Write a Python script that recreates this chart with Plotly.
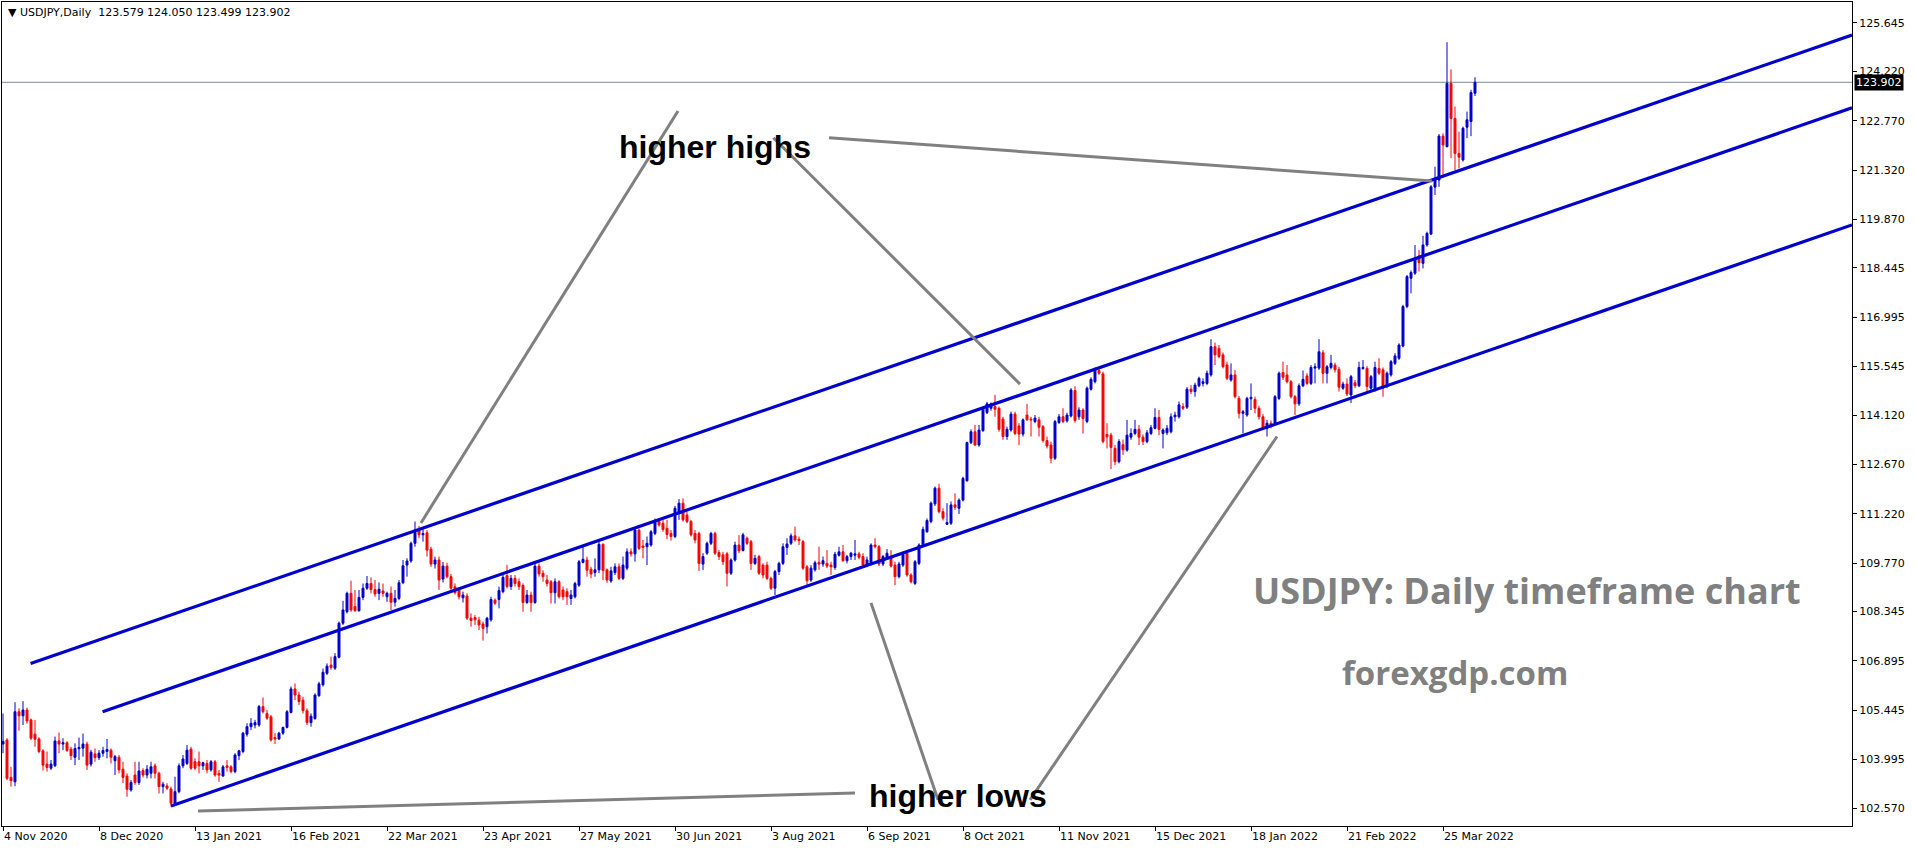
import plotly.graph_objects as go

# ---------------- data ----------------
open_ = [104.45,104.57,103.47,103.34,105.40,105.28,105.45,105.16,104.74,104.60,
104.25,103.86,103.74,103.81,104.54,104.45,104.49,104.30,104.06,104.31,
104.33,104.45,103.86,104.16,104.05,104.18,104.23,104.27,103.96,104.06,
103.71,103.51,103.10,103.54,103.32,103.67,103.54,103.59,103.81,103.59,
103.20,103.22,103.13,102.71,103.05,103.81,103.88,104.30,103.93,103.93,
103.81,103.88,103.69,103.93,103.59,103.51,103.81,103.78,103.64,104.11,
104.23,104.74,104.96,105.01,105.01,105.55,105.35,105.25,104.64,104.60,
104.77,104.94,105.38,106.07,105.89,105.74,105.43,105.08,105.20,105.87,
106.19,106.53,106.77,106.68,107.00,108.00,108.34,108.88,108.49,108.37,
108.76,109.03,109.17,108.99,108.88,108.95,108.78,108.88,108.62,108.73,
109.19,109.71,109.83,110.35,110.77,110.60,110.66,110.18,109.74,109.86,
109.30,109.68,109.37,109.07,108.98,108.75,108.80,108.15,108.17,108.09,
107.98,107.90,108.10,108.68,108.70,108.93,109.40,109.08,109.32,109.22,
109.11,108.61,108.83,108.61,109.68,109.47,109.27,109.22,108.90,109.22,
108.98,108.93,108.73,108.78,109.12,109.79,109.86,109.59,109.49,109.57,
110.32,109.57,109.24,109.49,109.66,109.32,109.62,110.10,110.04,110.74,
110.27,110.25,110.30,110.64,110.99,110.94,110.79,110.64,110.55,111.23,
111.53,111.18,110.99,110.64,110.64,109.74,110.06,110.35,110.64,110.08,
110.01,110.04,109.47,109.86,110.30,110.14,110.50,110.40,109.76,109.96,
109.71,109.71,109.32,109.03,109.52,109.76,110.23,110.35,110.57,110.47,
110.40,109.66,109.27,109.57,109.79,109.74,109.76,109.71,109.64,110.00,
110.10,109.84,109.96,110.00,110.04,109.96,109.71,109.78,110.30,110.25,
109.74,109.91,109.91,109.71,109.37,109.71,110.06,109.42,109.17,109.76,
110.30,110.69,110.99,111.51,111.97,111.28,110.91,110.94,111.48,111.38,
111.62,112.19,113.31,113.63,113.24,113.66,114.19,114.32,114.37,114.32,
114.00,113.49,113.68,114.15,113.80,113.56,114.12,114.00,113.93,113.98,
113.78,113.37,113.24,112.85,113.90,114.07,113.95,114.09,114.84,114.07,
114.27,113.93,114.88,115.10,115.43,115.33,113.55,113.53,113.14,112.75,
113.25,113.09,113.47,113.58,113.70,113.47,113.34,113.58,113.73,114.05,
113.58,113.60,113.63,114.07,114.07,114.37,114.35,114.88,114.81,114.98,
115.05,115.05,115.30,116.13,116.08,115.89,115.59,115.15,115.30,114.61,
114.17,114.12,114.60,114.58,114.32,114.07,113.73,113.88,113.88,114.61,
115.37,115.30,115.10,114.66,114.45,114.98,115.27,115.05,115.50,115.50,
115.95,115.35,115.52,115.59,115.46,114.91,115.03,114.71,115.07,114.98,
115.49,115.49,114.91,114.86,115.49,115.45,114.96,115.30,115.64,115.79,
116.15,117.31,118.14,118.29,118.80,118.58,119.12,119.44,120.82,121.03,
122.32,122.01,123.87,122.84,121.81,121.62,122.58,122.75,123.579]

high = [105.35,104.62,103.78,105.68,105.50,105.71,105.52,105.20,105.16,104.65,
104.30,104.23,103.98,104.67,104.79,104.62,104.53,104.37,104.47,104.64,
104.76,104.52,104.28,104.32,104.27,104.37,104.60,104.32,104.13,104.13,
103.93,103.59,103.39,103.93,103.93,103.74,103.83,103.93,103.88,103.64,
103.34,103.30,103.20,103.49,103.88,104.13,104.42,104.37,104.03,104.23,
103.93,103.98,103.98,103.98,103.69,103.83,103.98,103.83,104.18,104.28,
104.81,105.06,105.21,105.16,105.60,105.82,105.45,105.30,104.77,104.81,
104.96,105.45,106.14,106.23,105.99,105.84,105.50,105.35,105.94,106.28,
106.67,106.82,107.02,107.12,108.05,108.66,108.93,109.25,108.98,108.98,
109.17,109.39,109.35,109.27,109.20,109.17,108.93,109.08,108.98,109.27,
109.86,109.91,110.40,110.99,110.86,110.82,110.74,110.25,109.96,109.96,
109.80,109.78,109.45,109.17,109.05,108.93,108.88,108.29,108.24,108.19,
108.05,108.19,108.78,108.73,109.08,109.47,109.72,109.42,109.42,109.32,
109.17,108.98,108.93,109.76,109.76,109.56,109.42,109.27,109.32,109.27,
109.08,109.03,108.98,109.22,109.86,110.25,109.96,109.66,109.91,110.40,
110.35,109.61,109.66,109.76,109.76,109.96,110.20,110.20,110.79,110.79,
110.45,110.55,110.74,111.08,111.08,111.04,111.04,110.74,111.45,111.65,
111.67,111.28,111.04,110.74,110.69,110.06,110.40,110.69,110.69,110.15,
110.10,110.10,109.91,110.40,110.59,110.66,110.55,110.45,110.01,110.01,
109.76,109.81,109.37,109.57,109.81,110.35,110.50,110.64,110.84,110.55,
110.45,109.71,109.71,109.84,110.25,109.96,110.15,109.81,110.10,110.25,
110.30,110.01,110.10,110.45,110.10,110.06,109.96,110.35,110.50,110.30,
110.01,110.18,110.15,109.81,109.81,110.10,110.10,109.47,109.86,110.35,
110.84,111.08,111.58,112.02,112.10,111.38,111.53,111.58,111.82,111.67,
112.31,113.34,113.70,113.83,113.83,114.37,114.51,114.49,114.71,114.37,
114.07,113.78,114.22,114.22,113.88,114.02,114.45,114.07,114.12,114.07,
113.83,113.49,113.34,113.98,114.15,114.32,114.19,114.91,114.97,114.35,
114.32,114.96,115.23,115.52,115.49,115.40,113.88,113.60,113.24,113.41,
113.40,113.98,113.73,113.98,113.83,113.55,113.68,113.83,114.32,114.27,
113.73,113.83,114.17,114.22,114.52,114.47,114.94,115.00,115.07,115.25,
115.20,115.43,116.35,116.25,116.18,115.96,115.69,115.64,115.45,114.68,
114.27,114.66,115.05,114.66,114.39,114.15,113.98,113.96,114.71,115.40,
115.69,115.59,115.15,114.71,115.05,115.43,115.35,115.59,115.64,116.35,
116.03,115.59,115.89,115.66,115.54,115.10,115.20,115.30,115.15,115.69,
115.74,115.56,115.30,115.69,115.79,115.52,115.40,115.74,115.94,116.23,
117.36,118.24,118.37,119.12,118.97,119.39,119.51,120.88,121.42,122.38,
122.40,125.08,124.28,123.19,122.45,122.60,123.04,123.68,124.050]

low = [104.18,103.39,103.20,103.21,104.84,105.01,105.05,104.57,104.37,104.18,
103.67,103.64,103.69,103.78,104.18,104.27,104.22,103.98,103.83,103.98,
104.08,103.69,103.79,103.93,103.98,104.08,104.03,103.88,103.54,103.59,
103.30,102.90,103.05,103.25,103.25,103.47,103.44,103.44,103.44,103.00,
103.00,103.10,102.61,102.66,103.00,103.74,103.83,103.69,103.69,103.59,
103.69,103.59,103.64,103.49,103.34,103.49,103.64,103.59,103.59,103.98,
104.18,104.67,104.86,104.91,104.96,105.35,105.16,104.52,104.45,104.57,
104.72,104.91,105.35,105.74,105.60,105.35,105.01,104.96,105.16,105.84,
106.14,106.48,106.63,106.63,106.97,107.95,108.29,108.34,108.34,108.34,
108.68,108.98,108.88,108.78,108.68,108.78,108.63,108.39,108.49,108.68,
109.15,109.37,109.78,110.25,110.50,110.40,109.96,109.66,109.61,108.98,
109.20,109.32,108.95,108.85,108.70,108.61,108.10,107.90,107.95,107.80,
107.49,107.70,108.05,108.54,108.44,108.88,109.03,108.98,109.08,108.98,
108.34,108.57,108.34,108.57,109.37,109.22,109.08,108.58,108.58,108.73,
108.68,108.54,108.54,108.73,109.07,109.76,109.37,109.32,109.37,109.47,
109.27,109.19,109.19,109.42,109.27,109.27,109.56,109.96,109.81,110.15,
109.91,109.71,110.25,110.59,110.84,110.69,110.47,110.43,110.50,111.04,
110.99,110.94,110.55,110.35,109.54,109.56,110.01,110.30,110.01,109.86,
109.71,109.08,109.42,109.81,110.06,110.11,110.30,109.57,109.71,109.42,
109.32,109.27,108.98,108.83,109.42,109.71,110.01,110.30,110.40,110.30,
109.57,109.12,109.22,109.52,109.57,109.66,109.62,109.42,109.57,109.96,
109.81,109.76,109.86,109.86,109.88,109.66,109.66,109.74,110.20,109.68,
109.68,109.86,109.64,109.12,109.32,109.66,109.37,109.17,109.12,109.71,
110.25,110.66,110.94,111.45,111.23,111.02,110.89,110.89,111.33,111.21,
111.58,112.16,113.27,113.21,113.19,113.63,114.15,114.25,114.07,113.63,
113.39,113.39,113.63,113.53,113.24,113.49,113.96,113.49,113.88,113.49,
113.31,113.14,112.70,112.80,113.86,113.88,113.90,114.05,113.90,113.98,
113.58,113.88,114.84,115.05,115.30,113.29,113.14,112.53,112.65,112.70,
112.95,113.04,113.39,113.53,113.24,113.24,113.29,113.53,113.70,113.53,
113.14,113.53,113.58,113.93,114.02,114.27,114.30,114.74,114.66,114.94,
114.96,115.00,115.25,115.59,115.79,115.49,115.15,115.10,114.61,114.02,
113.58,114.07,114.27,114.17,113.99,113.68,113.49,113.73,113.83,114.56,
115.15,115.05,114.61,114.12,114.39,114.94,115.00,115.00,115.05,115.45,
115.05,115.05,115.46,115.37,114.81,114.86,114.68,114.47,114.91,114.94,
115.45,114.74,114.86,114.81,115.30,114.66,114.91,115.25,115.59,115.74,
116.11,117.26,117.70,118.24,118.34,118.43,119.07,119.41,120.59,120.83,
121.18,121.99,121.67,121.32,121.37,121.57,122.26,122.32,123.499]

close = [104.53,103.44,103.37,105.40,105.28,105.45,105.13,104.62,104.59,104.23,
103.83,103.76,103.86,104.54,104.45,104.49,104.26,104.11,104.32,104.35,
104.45,103.83,104.21,104.05,104.18,104.26,104.29,104.06,104.08,103.69,
103.47,103.12,103.32,103.32,103.66,103.54,103.71,103.78,103.59,103.20,
103.27,103.15,102.71,103.05,103.81,104.01,104.27,103.74,103.74,103.81,
103.90,103.69,103.93,103.54,103.54,103.78,103.76,103.64,104.13,104.25,
104.77,104.96,105.06,105.08,105.55,105.40,105.21,104.57,104.60,104.77,
104.94,105.40,106.07,105.89,105.70,105.43,105.08,105.27,105.89,106.22,
106.56,106.74,106.70,107.02,108.00,108.39,108.88,108.39,108.37,108.76,
109.03,109.17,108.99,108.86,109.00,108.88,108.88,108.62,108.73,109.19,
109.69,109.83,110.35,110.74,110.60,110.64,110.15,109.74,109.86,109.27,
109.68,109.37,109.03,108.90,108.78,108.83,108.15,108.08,108.10,107.95,
107.85,108.15,108.70,108.59,108.96,109.35,109.08,109.32,109.17,109.08,
108.61,108.83,108.61,109.68,109.45,109.37,109.17,108.90,109.22,108.78,
108.78,108.78,108.83,109.17,109.81,109.88,109.56,109.45,109.57,110.32,
109.55,109.27,109.54,109.66,109.32,109.71,110.10,110.04,110.74,110.20,
110.23,110.35,110.69,110.99,110.89,110.76,110.61,110.55,111.38,111.53,
111.04,110.99,110.60,110.45,109.76,109.96,110.35,110.64,110.06,109.96,
109.81,109.47,109.86,110.30,110.13,110.60,110.35,109.76,109.91,109.47,
109.42,109.32,109.03,109.52,109.76,110.25,110.33,110.57,110.45,110.43,
109.62,109.25,109.62,109.78,109.74,109.84,109.68,109.66,110.03,110.10,
109.84,109.96,110.06,110.04,109.94,109.71,109.86,110.30,110.25,109.74,
109.96,110.06,109.68,109.37,109.74,110.03,109.42,109.22,109.81,110.30,
110.76,111.02,111.53,111.97,111.28,111.09,110.96,111.48,111.41,111.62,
112.26,113.31,113.63,113.24,113.68,114.32,114.45,114.45,114.29,113.70,
113.49,113.70,114.15,113.58,113.56,113.98,113.98,113.98,114.03,113.76,
113.37,113.21,112.85,113.93,114.07,113.93,114.12,114.86,113.96,114.27,
114.02,114.91,115.17,115.47,115.35,113.34,113.48,113.17,112.75,113.34,
113.10,113.53,113.58,113.70,113.47,113.34,113.60,113.75,114.05,113.70,
113.68,113.73,114.07,114.12,114.42,114.32,114.88,114.81,115.00,115.20,
115.10,115.35,116.13,115.89,115.84,115.54,115.20,115.30,114.66,114.17,
114.22,114.61,114.64,114.32,114.07,113.73,113.88,113.80,114.66,115.35,
115.23,115.10,114.66,114.45,114.98,115.17,115.05,115.52,115.54,115.98,
115.35,115.54,115.64,115.45,114.94,115.03,114.74,115.25,114.98,115.52,
115.52,114.96,115.25,115.52,115.35,114.91,115.35,115.69,115.86,116.18,
117.31,118.19,118.31,118.73,118.60,119.12,119.46,120.83,121.08,122.32,
122.06,123.87,122.84,121.81,121.70,122.55,122.80,123.60,123.902]

date_labels = ["4 Nov 2020", "8 Dec 2020", "13 Jan 2021", "16 Feb 2021", "22 Mar 2021",
               "23 Apr 2021", "27 May 2021", "30 Jun 2021", "3 Aug 2021", "6 Sep 2021",
               "8 Oct 2021", "11 Nov 2021", "15 Dec 2021", "18 Jan 2022", "21 Feb 2022",
               "25 Mar 2022"]
price_ticks = [102.570, 103.995, 105.445, 106.895, 108.345, 109.770, 111.220, 112.670,
               114.120, 115.545, 116.995, 118.445, 119.870, 121.320, 122.770, 124.220, 125.645]
last_price = 123.902

# channel lines: (start bar, start price, end bar, end price)
channel_upper = [6.9, 106.82, 462.25, 125.29]
channel_middle = [24.9, 105.40, 462.25, 123.15]
channel_lower = [42.0, 102.63, 462.25, 119.71]

# ---------------------------------------------------------------
BLUE = "#0000CD"
RED = "#FF0000"
GRAY = "#808080"
n = len(close)
bars = list(range(n))

fig = go.Figure()
fig.add_trace(go.Candlestick(
    x=bars, open=open_, high=high, low=low, close=close,
    increasing=dict(line=dict(color=BLUE, width=1), fillcolor=BLUE),
    decreasing=dict(line=dict(color=RED, width=1), fillcolor=RED),
    whiskerwidth=0, hoverinfo="skip", showlegend=False,
))

shapes = []
shapes.append(dict(type="line", xref="paper", x0=0, x1=1, yref="y", y0=last_price, y1=last_price,
                   line=dict(color="#778899", width=1), layer="below"))
for c in (channel_upper, channel_middle, channel_lower):
    shapes.append(dict(type="line", xref="x", yref="y", x0=c[0], y0=c[1], x1=c[2], y1=c[3],
                       line=dict(color=BLUE, width=3.2)))

def pointer(x0, y0, x1, y1):
    return dict(type="line", xref="x", yref="y", x0=x0, y0=y0, x1=x1, y1=y1,
                line=dict(color=GRAY, width=3))

shapes += [
    pointer(168.75, 123.06, 104.5, 110.95),
    pointer(192.6, 122.27, 254.25, 115.03),
    pointer(206.5, 122.27, 357.25, 121.00),
    pointer(48.75, 102.48, 213.0, 103.01),
    pointer(233.75, 102.81, 217.0, 108.60),
    pointer(256.75, 102.81, 318.5, 113.49),
]

def label(x, y, text, size, color, family):
    return dict(xref="paper", yref="paper", x=x, y=y, xanchor="center", yanchor="middle",
                text=text, showarrow=False, font=dict(family=family, size=size, color=color))

annotations = [
    dict(xref="paper", yref="paper", x=0.002, y=0.997, xanchor="left", yanchor="top",
         text="▼\u00a0USDJPY,Daily\u00a0\u00a0123.579\u00a0124.050\u00a0123.499\u00a0123.902",
         showarrow=False, font=dict(family="DejaVu Sans", size=11, color="black")),
    dict(xref="paper", yref="y", x=1, y=last_price, xanchor="left", yanchor="middle", xshift=2,
         text="123.902", showarrow=False, bgcolor="black", borderpad=1,
         font=dict(family="DejaVu Sans", size=11, color="white")),
    label(0.3854, 0.824, "<b>higher highs</b>", 32, "black", "Liberation Sans"),
    label(0.5165, 0.037, "<b>higher lows</b>", 32, "black", "Liberation Sans"),
    label(0.8243, 0.2864, "<b>USDJPY: Daily timeframe chart</b>", 36, GRAY, "Open Sans"),
    label(0.7854, 0.1857, "<b>forexgdp.com</b>", 33, GRAY, "Open Sans"),
]

fig.update_layout(
    width=1916, height=850,
    margin=dict(l=2, r=64, t=2, b=24, autoexpand=False),
    paper_bgcolor="white", plot_bgcolor="white",
    shapes=shapes, annotations=annotations,
    showlegend=False,
    xaxis=dict(range=[-0.25, 462.25], tickvals=[24 * k for k in range(len(date_labels))],
               ticktext=date_labels, ticks="outside", ticklen=4, tickcolor="black",
               ticklabelposition="outside right",
               showline=True, linecolor="black", linewidth=1, mirror=True,
               showgrid=False, zeroline=False, rangeslider=dict(visible=False),
               tickfont=dict(family="DejaVu Sans", size=11, color="black")),
    yaxis=dict(side="right", range=[102.041, 126.262], tickvals=price_ticks,
               ticktext=[f"{v:.3f}" for v in price_ticks], ticks="outside", ticklen=4,
               tickcolor="black", showline=True, linecolor="black", linewidth=1, mirror=True,
               showgrid=False, zeroline=False,
               tickfont=dict(family="DejaVu Sans", size=11, color="black")),
)

fig.write_html("out.html")
